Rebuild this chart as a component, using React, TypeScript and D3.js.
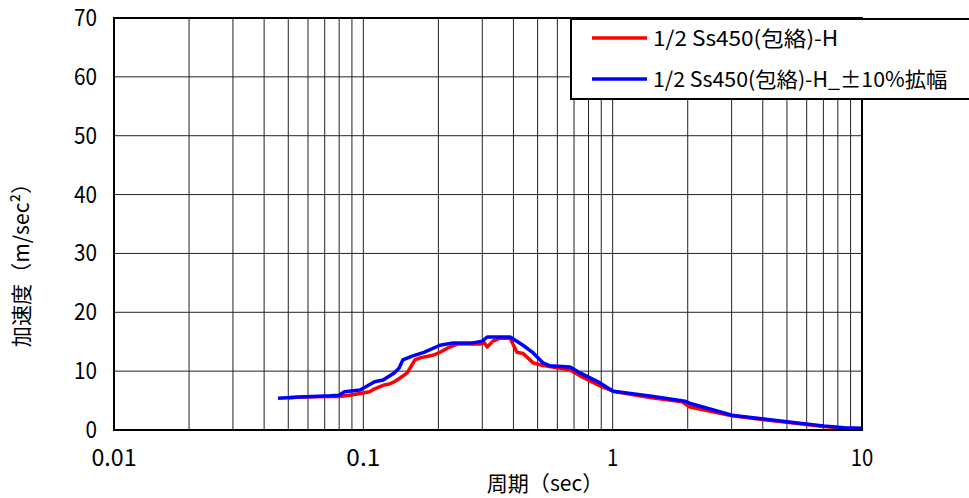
import React from "react";
import * as d3 from "d3";

const periodsRed = [0.05, 0.056, 0.074, 0.08, 0.088, 0.097, 0.106, 0.111, 0.12, 0.127, 0.133, 0.14, 0.15, 0.161, 0.17, 0.19, 0.203, 0.217, 0.238, 0.294, 0.306, 0.314, 0.331, 0.354, 0.388, 0.413, 0.437, 0.48, 0.52, 0.615, 0.675, 0.74, 0.89, 1.004, 1.41, 1.9, 2.04, 3.01, 5.0, 7.0, 8.5, 10];
const accelRed = [5.5, 5.6, 5.7, 5.7, 5.9, 6.2, 6.5, 7.0, 7.6, 7.8, 8.2, 8.8, 9.7, 11.9, 12.3, 12.7, 13.2, 13.9, 14.6, 14.6, 14.8, 14.1, 15.1, 15.6, 15.6, 13.2, 13.0, 11.4, 11.0, 10.5, 10.2, 9.2, 7.5, 6.6, 5.5, 4.8, 3.9, 2.4, 1.3, 0.6, 0.3, 0.2];

const periodsBlue = [0.0455, 0.056, 0.074, 0.08, 0.084, 0.097, 0.111, 0.12, 0.133, 0.139, 0.144, 0.158, 0.175, 0.203, 0.229, 0.275, 0.3, 0.314, 0.388, 0.437, 0.48, 0.526, 0.56, 0.675, 0.74, 0.89, 1.004, 1.41, 1.95, 2.05, 3.01, 5.0, 7.0, 8.5, 10];
const accelBlue = [5.4, 5.6, 5.8, 5.9, 6.5, 6.8, 8.2, 8.5, 9.7, 10.5, 11.9, 12.6, 13.2, 14.4, 14.8, 14.8, 15.1, 15.8, 15.8, 14.4, 13.1, 11.4, 10.9, 10.7, 9.7, 8.0, 6.6, 5.8, 4.9, 4.5, 2.5, 1.4, 0.7, 0.4, 0.3];

const xTicks = [0.01, 0.1, 1, 10];
const xTickLabels = ["0.01", "0.1", "1", "10"];
const yTicks = [0, 10, 20, 30, 40, 50, 60, 70];

const seriesNames = ["1/2 Ss450(包絡)-H", "1/2 Ss450(包絡)-H_±10%拡幅"];
const seriesColors = ["#ff0000", "#0000ff"];
const xTitle = "周期（sec）";
const yTitle = "加速度（m/sec²）";

const FONT = "'Noto Sans CJK JP', 'DejaVu Sans', sans-serif";
const HALF = 10.9;

function halfUnits(s: string): number {
  let n = 0;
  for (const ch of s) {
    const c = ch.charCodeAt(0);
    n += c < 0x80 || ch === "²" ? 1 : 2;
  }
  return n;
}

export default function App() {
  const W = 969, H = 498;
  const L = 114, R = 862, T = 18, B = 430;
  const x = d3.scaleLog().domain([0.01, 10]).range([L, R]);
  const y = d3.scaleLinear().domain([0, 70]).range([B, T]);

  const minor: number[] = [];
  for (let e = -2; e < 1; e++) {
    for (let m = 2; m <= 9; m++) minor.push(m * Math.pow(10, e));
  }

  const line = d3.line<[number, number]>().x((d) => x(d[0])).y((d) => y(d[1]));
  const red = periodsRed.map((p, i) => [p, accelRed[i]] as [number, number]);
  const blue = periodsBlue.map((p, i) => [p, accelBlue[i]] as [number, number]);

  return (
    <svg width={W} height={H} style={{ position: "absolute", left: 0, top: 0, background: "#fff" }}>
      <rect x={0} y={0} width={W} height={H} fill="#fff" />
      {[...minor, ...xTicks].map((v, i) => (
        <line key={"vx" + i} x1={x(v)} x2={x(v)} y1={T} y2={B} stroke="#222" strokeWidth={1} />
      ))}
      {yTicks.map((v) => (
        <line key={"hy" + v} x1={L} x2={R} y1={y(v)} y2={y(v)} stroke="#222" strokeWidth={1} />
      ))}
      <path d={line(red) || ""} fill="none" stroke={seriesColors[0]} strokeWidth={3.5} strokeLinejoin="round" />
      <path d={line(blue) || ""} fill="none" stroke={seriesColors[1]} strokeWidth={3.5} strokeLinejoin="round" />
      <rect x={L} y={T} width={R - L} height={B - T} fill="none" stroke="#000" strokeWidth={2} />
      {yTicks.map((v) => {
        const s = String(v);
        return (
          <text key={"yl" + v} x={97} y={y(v) + 8} textAnchor="end" fontFamily={FONT} fontSize={23}
            textLength={s.length * 11.5} lengthAdjust="spacingAndGlyphs" fill="#000">{s}</text>
        );
      })}
      {xTicks.map((v, i) => {
        const s = xTickLabels[i];
        const w = s.length * 11.3;
        return (
          <text key={"xl" + i} x={x(v) - w / 2} y={466} fontFamily={FONT} fontSize={23}
            textLength={w} lengthAdjust="spacingAndGlyphs" fill="#000">{s}</text>
        );
      })}
      <text x={545 - (halfUnits(xTitle) * 10.6) / 2} y={491} fontFamily={FONT} fontSize={21}
        textLength={halfUnits(xTitle) * 10.6} lengthAdjust="spacingAndGlyphs" fill="#000">{xTitle}</text>
      <text transform="translate(29,260) rotate(-90)" x={-(halfUnits(yTitle) * 10.9) / 2} y={0} fontFamily={FONT} fontSize={21}
        textLength={halfUnits(yTitle) * 10.9} lengthAdjust="spacingAndGlyphs" fill="#000">{yTitle}</text>
      <rect x={571} y={19} width={420} height={80} fill="#fff" stroke="#000" strokeWidth={2} />
      {seriesNames.map((n, i) => {
        const yy = 38 + i * 41;
        return (
          <g key={"lg" + i}>
            <line x1={592} x2={647} y1={yy} y2={yy} stroke={seriesColors[i]} strokeWidth={3.5} />
            <text x={653} y={yy + 8} fontFamily={FONT} fontSize={21} textLength={halfUnits(n) * HALF}
              lengthAdjust="spacingAndGlyphs" fill="#000">{n}</text>
          </g>
        );
      })}
    </svg>
  );
}
